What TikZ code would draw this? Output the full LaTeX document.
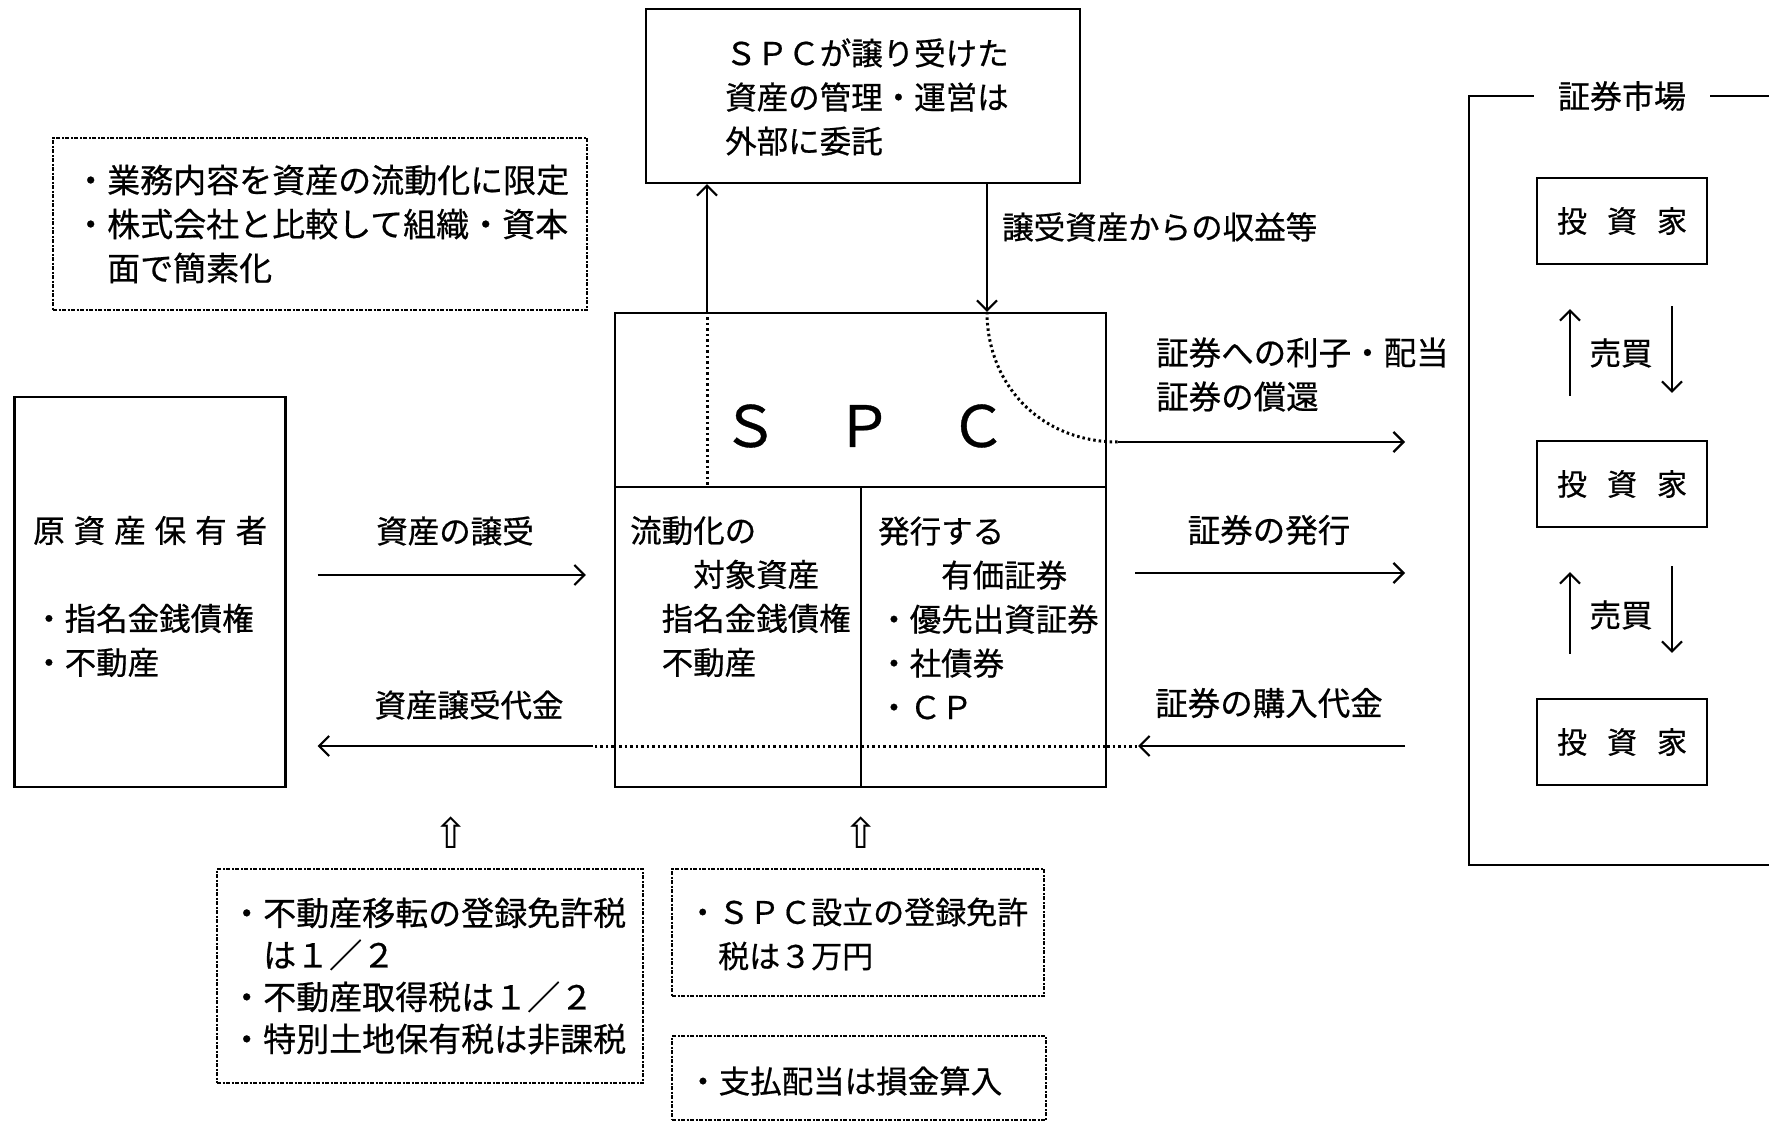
\documentclass[tikz,border=0pt]{standalone}
\usepackage{fontspec}
\setmainfont{Noto Sans CJK JP}[FakeBold=0.6]
\newfontfamily\symfont{DejaVu Sans}
\usetikzlibrary{arrows.meta}
\newcommand\jgap[1]{\hspace{#1}}
\begin{document}
\begin{tikzpicture}[x=1pt,y=-1pt,
  box/.style={draw, line width=2.2pt, inner sep=0pt, rectangle},
  dotbox/.style={draw, line width=2pt, dash pattern=on 4pt off 1.5pt on 2pt off 1.5pt, inner sep=0pt, rectangle},
  txt/.style={inner sep=0pt, align=left, anchor=west, font=\fontsize{31.5}{44}\selectfont},
  ctxt/.style={inner sep=0pt, align=center, font=\fontsize{31.5}{44}\selectfont},
  arr/.style={line width=2.2pt, -{Straight Barb[length=10pt,width=20pt,line width=2.2pt]}},
  dots/.style={line width=3pt, dash pattern=on 2.5pt off 3pt},
  frame/.style={line width=2.2pt}]
\useasboundingbox (0,0) rectangle (1769,1124);

% management box
\node[box, minimum width=434pt, minimum height=174pt] (mgmt) at (863,96) {};
\node[txt] (mgmtT) at (725,97) {ＳＰＣが譲り受けた\\資産の管理・運営は\\外部に委託};

% note box
\node[dotbox, minimum width=534pt, minimum height=172pt] (note) at (320,224) {};
\node[txt, font=\fontsize{33}{44}\selectfont] (noteT) at (74,224) {・業務内容を資産の流動化に限定\\・株式会社と比較して組織・資本\\　面で簡素化};

% SPC
\node[box, minimum width=491pt, minimum height=474pt] (spc) at (860.5,550) {};
\coordinate (hy) at (0,487);
\coordinate (vx) at (861,0);
\coordinate (ax) at (707,0);
\coordinate (bx) at (987,0);
\coordinate (ly) at (0,746);
\draw[frame] (spc.west |- hy) -- (spc.east |- hy);
\draw[frame] (vx |- hy) -- (vx |- spc.south);
\draw[dots] (ax |- spc.north) -- (ax |- hy);
\draw[dots] (spc.west |- ly) -- (spc.east |- ly);
\node[inner sep=0pt, font=\fontsize{57}{57}\selectfont] (spcT) at (864,426) {Ｓ　Ｐ　Ｃ};
\node[txt] (leftT) at (630,596.5) {流動化の\\　　対象資産\\　指名金銭債権\\　不動産};
\node[txt] (rightT) at (878,618) {発行する\\　　有価証券\\・優先出資証券\\・社債券\\・ＣＰ};

% arrows with management box
\draw[arr] (ax |- spc.north) -- (ax |- mgmt.south);
\draw[arr] (bx |- mgmt.south) -- (bx |- spc.north);
\node[txt] (incomeL) at (1002,227) {譲受資産からの収益等};

% original asset holder
\node[box, minimum width=271pt, minimum height=390pt] (owner) at (150,592) {};
\node[txt] (ownerT) at (33,596.5) {原\jgap{9pt}資\jgap{9pt}産\jgap{9pt}保\jgap{9pt}有\jgap{9pt}者\\[44pt]・指名金銭債権\\・不動産};
\node[ctxt] (transL) at (455,531) {資産の譲受};
\coordinate (ty) at (0,575);
\draw[arr, shorten <=31pt, shorten >=28pt] (owner.east |- ty) -- (spc.west |- ty);
\node[ctxt] (payL) at (469,705) {資産譲受代金};
\coordinate (b1) at (593,746);
\draw[dots] (spc.west |- b1) -- (b1);
\draw[arr, shorten >=31pt] (b1) -- (owner.east |- b1);

% market frame
\node[inner xsep=24pt, inner ysep=0pt, font=\fontsize{32}{32}\selectfont] (mkt) at (1622,96) {証券市場};
\coordinate (mtl) at (1469,96);
\coordinate (mbl) at (1469,865);
\coordinate (mbr) at (1769,865);
\coordinate (mtr) at (1769,96);
\draw[frame] (mkt.west) -- (mtl) -- (mbl) -- (mbr);
\draw[frame] (mkt.east) -- (mtr);

% right side flows
\node[txt, font=\fontsize{32.5}{44}\selectfont] (divL) at (1156,374.5) {証券への利子・配当\\証券の償還};
\coordinate (c1) at (1118,442);
\draw[dots] (bx |- spc.north) .. controls (987,384) and (1040,442) .. (c1);
\draw[arr, shorten >=64pt] (c1) -- (mtl |- c1);
\node[ctxt, font=\fontsize{32.5}{44}\selectfont] (issueL) at (1269,530) {証券の発行};
\coordinate (iy) at (0,573);
\draw[arr, shorten <=28pt, shorten >=64pt] (spc.east |- iy) -- (mtl |- iy);
\node[ctxt, font=\fontsize{32.5}{44}\selectfont] (buyL) at (1269,703) {証券の購入代金};
\coordinate (e1) at (1138,746);
\draw[dots] (spc.east |- e1) -- (e1);
\draw[arr, shorten <=64pt] (mtl |- e1) -- (e1);

% investors
\newcommand\invtext{\fontsize{30}{30}\selectfont 投\jgap{20pt}資\jgap{20pt}家}
\node[box, minimum width=170pt, minimum height=86pt] (inv1) at (1622,221) {\invtext};
\node[box, minimum width=170pt, minimum height=86pt] (inv2) at (1622,484) {\invtext};
\node[box, minimum width=170pt, minimum height=86pt] (inv3) at (1622,742) {\invtext};
\coordinate (ux) at (1570,0);
\coordinate (dx) at (1672,0);
\draw[arr, shorten <=44pt, shorten >=44pt] (ux |- inv2.north) -- (ux |- inv1.south);
\draw[arr, shorten <=41pt, shorten >=47pt] (dx |- inv1.south) -- (dx |- inv2.north);
\node[ctxt] (trade1) at (1621,353) {売買};
\draw[arr, shorten <=44pt, shorten >=44pt] (ux |- inv3.north) -- (ux |- inv2.south);
\draw[arr, shorten <=38pt, shorten >=45pt] (dx |- inv2.south) -- (dx |- inv3.north);
\node[ctxt] (trade2) at (1621,615) {売買};

% tax notes
\node[inner sep=0pt, font=\symfont\fontsize{42}{42}\selectfont] (up1) at (451,833) {⇧};
\node[inner sep=0pt, font=\symfont\fontsize{42}{42}\selectfont] (up2) at (861,833) {⇧};
\node[dotbox, minimum width=426pt, minimum height=214pt] (tax1) at (430,976) {};
\node[txt, font=\fontsize{33}{42}\selectfont] (tax1T) at (230,976) {・不動産移転の登録免許税\\　は１／２\\・不動産取得税は１／２\\・特別土地保有税は非課税};
\node[dotbox, minimum width=372pt, minimum height=127pt] (tax2) at (858,932.5) {};
\node[txt, font=\fontsize{31}{44}\selectfont] (tax2T) at (687,934) {・ＳＰＣ設立の登録免許\\　税は３万円};
\node[dotbox, minimum width=374pt, minimum height=84pt] (tax3) at (859,1078) {};
\node[txt] (tax3T) at (687,1081) {・支払配当は損金算入};
\end{tikzpicture}
\end{document}
